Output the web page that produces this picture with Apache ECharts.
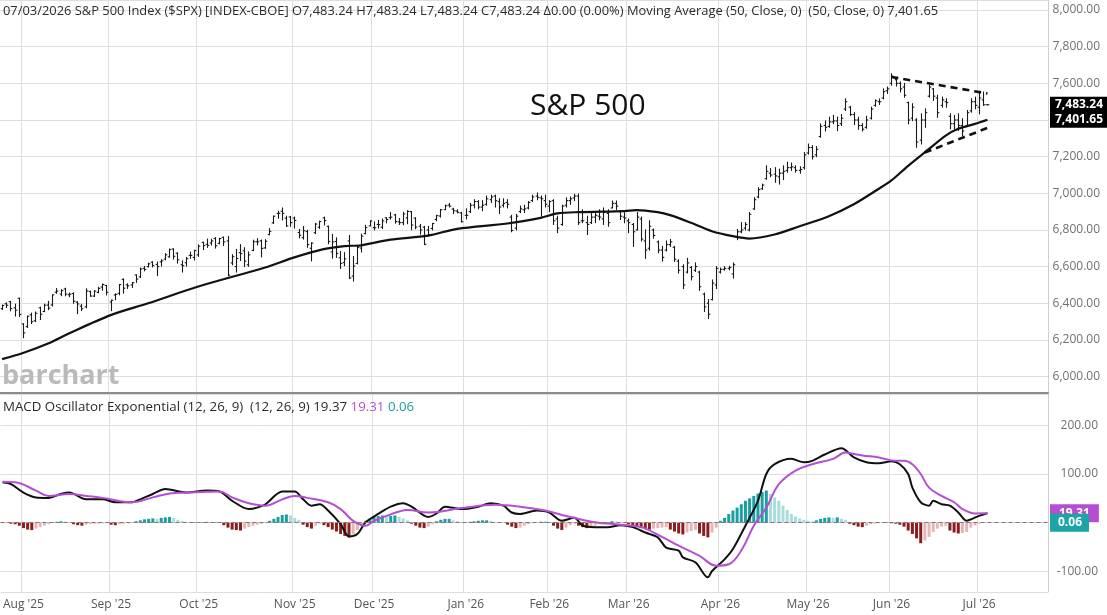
<!DOCTYPE html>
<html>
<head>
<meta charset="utf-8">
<title>S&amp;P 500 Index</title>
<script src="https://cdn.jsdelivr.net/npm/echarts@6.0.0/dist/echarts.min.js"></script>
<style>
  html, body { margin: 0; padding: 0; background: #fff; }
  #main { width: 1107px; height: 615px; }
</style>
</head>
<body>
<div id="main"></div>
<script>
// trading calendar shown on the chart
var tradeStart = '2025-07-25';
var tradeEnd = '2026-07-03';
var holidays = ['2025-09-01', '2025-11-27', '2025-12-25', '2026-01-01', '2026-01-19',
                '2026-02-16', '2026-04-03', '2026-05-25', '2026-06-19'];
var emptySlots = 14;   // blank space right of the last bar
var monthNames = ['Jan', 'Feb', 'Mar', 'Apr', 'May', 'Jun', 'Jul', 'Aug', 'Sep', 'Oct', 'Nov', 'Dec'];

// daily OHLC, one value per trading day
var opens = [
  6370,6397,6409,6375,6427,6287,6272,6337,6304,6375,
  6355,6390,6391,6460,6450,6478,6446,6453,6406,6384,
  6380,6464,6439,6459,6488,6497,6407,6445,6454,6530,
  6500,6500,6554,6544,6590,6600,6624,6612,6626,6641,
  6653,6696,6673,6610,6621,6661,6650,6664,6732,6722,
  6729,6753,6727,6760,6740,6620,6600,6676,6686,6610,
  6688,6736,6741,6702,6775,6839,6890,6902,6864,6871,
  6865,6786,6758,6791,6700,6785,6815,6866,6820,6680,
  6737,6648,6622,6740,6548,6617,6701,6780,6822,6813,
  6830,6815,6866,6867,6882,6844,6840,6866,6900,6865,
  6820,6815,6800,6808,6857,6876,6911,6936,6914,6903,
  6893,6880,6900,6935,6955,6925,6940,6965,6985,6955,
  6935,6950,6870,6810,6900,6910,6920,6960,6985,6975,
  6960,6930,6960,6860,6830,6935,6960,6975,6985,6850,
  6840,6840,6870,6875,6860,6890,6920,6945,6900,6870,
  6850,6830,6800,6860,6740,6700,6800,6735,6690,6690,
  6720,6705,6630,6600,6570,6595,6580,6570,6450,6400,
  6420,6500,6570,6585,6590,6560,6760,6790,6810,6800,
  6915,6980,7025,7080,7110,7105,7090,7110,7125,7140,
  7140,7125,7140,7220,7250,7210,7310,7370,7365,7390,
  7395,7380,7460,7470,7430,7400,7370,7360,7410,7480,
  7500,7520,7560,7600,7620,7600,7580,7495,7410,7400,
  7290,7400,7530,7570,7520,7480,7500,7420,7380,7400,
  7370,7370,7450,7500,7470,7510,7483.24
];
var highs = [
  6390,6402,6410,6395,6428,6288,6330,6346,6352,6379,
  6395,6410,6446,6480,6474,6482,6456,6457,6408,6394,
  6479,6466,6469,6487,6505,6497,6417,6451,6502,6533,
  6506,6513,6555,6592,6601,6619,6627,6625,6638,6671,
  6696,6697,6675,6632,6650,6679,6689,6718,6733,6750,
  6749,6758,6755,6761,6764,6665,6694,6720,6703,6680,
  6744,6752,6745,6747,6807,6876,6902,6920,6875,6874,
  6870,6803,6819,6798,6730,6835,6848,6870,6821,6775,
  6757,6683,6676,6770,6655,6715,6777,6825,6850,6844,
  6852,6860,6867,6895,6885,6862,6896,6905,6901,6866,
  6830,6819,6820,6836,6880,6912,6936,6945,6918,6910,
  6896,6915,6945,6965,6960,6960,6985,6990,6990,6970,
  6970,6965,6880,6885,6930,6935,6955,6990,7002,6985,
  6990,6960,6965,6875,6935,6975,6980,6995,6995,6910,
  6875,6900,6895,6910,6920,6910,6958,6958,6903,6894,
  6860,6835,6895,6870,6800,6850,6805,6740,6710,6740,
  6748,6710,6637,6610,6645,6600,6620,6575,6455,6420,
  6527,6600,6592,6600,6602,6620,6802,6840,6840,6895,
  6976,7031,7050,7150,7135,7140,7132,7150,7170,7165,
  7150,7145,7223,7269,7260,7255,7379,7395,7415,7425,
  7416,7430,7516,7475,7440,7415,7380,7420,7470,7510,
  7515,7570,7580,7652,7630,7608,7600,7498,7489,7407,
  7434,7461,7590,7571,7535,7525,7516,7434,7425,7434,
  7407,7452,7516,7525,7553,7553,7483.24
];
var lows = [
  6366,6377,6359,6330,6327,6212,6268,6289,6300,6311,
  6354,6365,6385,6454,6441,6441,6436,6400,6343,6360,
  6375,6438,6437,6457,6471,6445,6360,6419,6446,6455,
  6481,6486,6514,6540,6577,6598,6598,6551,6603,6637,
  6651,6641,6619,6570,6603,6645,6636,6656,6693,6705,
  6718,6701,6724,6715,6550,6610,6570,6633,6600,6601,
  6687,6718,6653,6700,6773,6835,6864,6855,6820,6820,
  6810,6757,6750,6705,6631,6780,6808,6827,6725,6646,
  6650,6590,6605,6535,6521,6615,6679,6779,6822,6800,
  6810,6808,6839,6859,6837,6830,6828,6834,6801,6807,
  6777,6720,6767,6800,6850,6870,6911,6925,6890,6893,
  6843,6860,6895,6920,6915,6905,6935,6950,6925,6890,
  6925,6920,6790,6800,6895,6895,6915,6955,6965,6875,
  6925,6900,6830,6785,6825,6925,6940,6960,6830,6840,
  6775,6835,6840,6855,6830,6820,6920,6912,6857,6839,
  6785,6710,6800,6740,6645,6690,6755,6675,6630,6685,
  6710,6628,6565,6480,6565,6527,6573,6470,6355,6317,
  6418,6480,6565,6580,6582,6537,6747,6785,6800,6795,
  6912,6976,7022,7077,7090,7060,7050,7075,7115,7125,
  7115,7110,7132,7214,7187,7200,7306,7340,7360,7380,
  7342,7370,7452,7425,7375,7350,7340,7355,7405,7475,
  7485,7515,7545,7590,7585,7553,7525,7379,7397,7251,
  7269,7360,7525,7507,7415,7470,7470,7352,7352,7343,
  7315,7370,7443,7461,7434,7480,7483.24
];
var closes = [
  6388,6389,6371,6362,6339,6238,6329,6299,6345,6340,
  6389,6373,6446,6466,6469,6450,6449,6411,6396,6370,
  6467,6439,6466,6481,6502,6460,6416,6448,6502,6482,
  6495,6512,6532,6587,6584,6615,6606,6600,6631,6664,
  6693,6656,6637,6605,6643,6661,6688,6711,6715,6716,
  6740,6714,6753,6735,6553,6654,6644,6671,6630,6664,
  6736,6735,6699,6738,6792,6875,6891,6890,6822,6840,
  6852,6771,6796,6720,6728,6832,6846,6851,6737,6734,
  6672,6617,6642,6538,6603,6705,6766,6813,6849,6812,
  6829,6849,6857,6870,6846,6840,6887,6901,6827,6816,
  6800,6721,6775,6835,6878,6910,6932,6930,6905,6896,
  6845,6880,6935,6955,6925,6935,6970,6980,6960,6925,
  6945,6940,6797,6875,6915,6915,6950,6980,6978,6970,
  6940,6955,6850,6810,6930,6960,6970,6985,6840,6850,
  6830,6870,6880,6870,6895,6840,6945,6930,6875,6865,
  6840,6790,6870,6750,6690,6820,6770,6690,6650,6720,
  6735,6640,6580,6500,6620,6545,6600,6490,6380,6340,
  6510,6590,6585,6590,6595,6610,6790,6800,6830,6885,
  6965,7020,7045,7120,7100,7095,7110,7120,7140,7145,
  7125,7130,7210,7250,7200,7240,7365,7360,7390,7395,
  7370,7410,7500,7430,7400,7370,7350,7400,7460,7505,
  7500,7555,7570,7640,7600,7570,7535,7400,7470,7280,
  7400,7440,7580,7530,7440,7510,7495,7380,7400,7370,
  7340,7440,7500,7480,7520,7483.24,7483.24
];

// 50-day moving average, read at [day index, value]
var maPoints = [
  [0,6095],[5,6128],[11,6180],[16,6235],[26,6335],[35,6400],[47,6491],[63,6595],
  [70,6650],[77,6695],[82,6712],[86,6716],[93,6747],[102,6769],[109,6806],[121,6835],
  [129,6866],[133,6890],[138,6897],[149,6903],[152,6908],[157,6897],[160,6881],[165,6839],
  [170,6793],[175,6766],[179,6753],[185,6775],[191,6820],[198,6875],[204,6940],[210,7025],
  [213,7070],[217,7150],[222,7242],[226,7315],[229,7352],[233,7379],[236,7401.65]
];

// drawn trend lines
var upperTrend = [[213, 7635], [236, 7545]];
var lowerTrend = [[221, 7222], [236, 7357]];

// MACD (12, 26, 9)
var macdPoints = [
  [0,83],[2,79],[5,62],[8,52],[11,51],[14,59],[16,62],[20,48],[24,48],[27,42],[31,42],
  [33,48],[36,59],[39,69],[44,62],[49,66],[52,64],[55,45],[59,28],[61,31],[63,38],[67,64],
  [70,64],[72,48],[74,35],[76,38],[78,25],[81,-3],[83,-28],[85,-23],[87,1],[90,18],[93,33],
  [96,40],[98,33],[102,12],[104,19],[106,33],[110,28],[114,33],[117,40],[120,35],[122,21],
  [124,18],[128,25],[131,21],[134,4],[137,10],[139,-6],[142,-9],[145,-9],[148,-5],[151,-9],
  [154,-20],[157,-30],[159,-51],[162,-57],[163,-71],[166,-81],[169,-112],[170,-99],[173,-75],
  [175,-54],[178,-6],[181,45],[183,100],[185,120],[189,131],[192,124],[194,127],[197,140],
  [201,153],[204,134],[207,124],[210,122],[213,126],[215,120],[217,100],[218,72],[220,42],
  [222,35],[223,45],[225,38],[227,35],[229,21],[231,4],[232,7],[234,14],[236,19.37]
];
var signalPoints = [
  [0,84],[3,83],[8,66],[11,55],[16,59],[20,55],[24,51],[31,42],[36,52],[40,60],[44,62],
  [52,64],[55,52],[59,40],[63,35],[67,48],[70,55],[73,51],[78,42],[81,28],[84,4],[87,-6],
  [89,4],[92,14],[95,23],[97,26],[102,21],[110,30],[118,37],[124,33],[130,25],[135,14],
  [142,1],[148,-4],[153,-9],[158,-29],[162,-47],[167,-68],[171,-88],[174,-85],[177,-57],
  [180,-6],[183,31],[186,79],[190,107],[194,120],[199,131],[202,144],[204,141],[206,138],
  [210,134],[214,127],[216,127],[218,120],[220,100],[222,72],[225,55],[228,42],[230,28],
  [233,19],[236,19.31]
];
var histValues = [
  -1,-1,-2,-3, -6,-11,-14,-15, -12,-9,-6,-3, 1,2,3,2,1, -3,-5,-6,
  -4,-3,-2,-2,-1,-1, -4,-5, -3,-2,-1,0,
  3,5,7,8,9,8,10,11,12,10, 6,4,2,1, 1,0,1,2,1,1,0,
  -5,-10,-14,-15,-16, -12,-9,-6,-4,-2,-1, 4,8,12,16,17,15, 10,6,
  -4,-9,-12, -6,-2, -5,-9,-14,-18,-23,-27,-30, -24,-15,-6,
  4,8,12,14,15,13,14,15, 12,9,5, -2,-6,-10,-11,-8, -3,
  3,6,8,8, 5,3,2,1,2, 3,4,5,5,4, 2,1,0,
  -4,-8,-11,-10, -6,-3,-1,0, 2,2,1, -6,-12,-15, -10,-5,-2,
  -6,-9,-11,-10, -6,-3,-1,1, 3,2,1,0,
  -3,-6,-9,-11,-13,-14, -12,-11,-10,-9, -14,-18,-22,-24, -20,-17,-15,
  -22,-27,-30, -20,-10,
  4,10,18,25,31,38,45,50,55,60,63,66, 59,52,45,35,26,18,13, 9,6,4,3,
  5,8,10,11,10,11, 8,6, -2,-5,-8,-9, -6,-3,-2,-1, 0,1,-1,-2, -4,-8,
  -16,-23,-32,-42, -36,-29,-19,-12, -8,-6, -16,-20,-22,-21,-19, -10,-5,-2,
  0.5,0.06
];

var priceMin = 5910, priceMax = 8055;
var macdMin = -142, macdMax = 264;

// build the trading-day categories
var dates = [];
var day = new Date(tradeStart + 'T00:00:00Z');
var lastDay = new Date(tradeEnd + 'T00:00:00Z');
while (day <= lastDay) {
  var wd = day.getUTCDay();
  var ds = day.toISOString().slice(0, 10);
  if (wd !== 0 && wd !== 6 && holidays.indexOf(ds) < 0) dates.push(ds);
  day.setUTCDate(day.getUTCDate() + 1);
}
var categories = dates.slice();
for (var k = 0; k < emptySlots; k++) categories.push('pad' + k);

var monthStarts = {};
for (var i = 1; i < dates.length; i++) {
  if (dates[i].slice(5, 7) !== dates[i - 1].slice(5, 7)) monthStarts[i] = true;
}
function isMonthStart(idx) { return !!monthStarts[idx]; }
function monthLabel(val) {
  if (val.indexOf('pad') === 0) return '';
  return monthNames[+val.slice(5, 7) - 1] + " '" + val.slice(2, 4);
}
function fmt2(v) {
  return v.toLocaleString('en-US', { minimumFractionDigits: 2, maximumFractionDigits: 2 });
}

var ohlcData = dates.map(function (d, i) {
  return [i, opens[i], highs[i], lows[i], closes[i]];
});
var histData = histValues.map(function (v, i) {
  var prev = i > 0 ? histValues[i - 1] : v;
  var col;
  if (v >= 0) col = v >= prev ? '#1b9ea0' : '#a9dcdc';
  else col = v < prev ? '#8b1d1d' : '#e4b7b7';
  return { value: v, itemStyle: { color: col } };
});

var lastClose = closes[closes.length - 1];
var lastMA = maPoints[maPoints.length - 1][1];
var lastSignal = signalPoints[signalPoints.length - 1][1];
var lastHist = histValues[histValues.length - 1];

var FONT = '"Open Sans", "Noto Sans", sans-serif';
var gridColor = '#dedede';
var hidden = { color: 'rgba(0,0,0,0)', width: 0 };

function tagLabel(bg, pad) {
  return {
    show: true, position: 'end', distance: 2, opacity: 1,
    backgroundColor: bg, color: '#fff', fontWeight: 'bold', fontSize: 12,
    fontFamily: FONT, padding: pad,
    formatter: function (p) { return fmt2(p.value); }
  };
}

var myChart = echarts.init(document.getElementById('main'));

var option = {
  animation: false,
  textStyle: { fontFamily: FONT },
  grid: [
    { left: 0, right: 59, top: 0, height: 393 },
    { left: 0, right: 59, top: 394, bottom: 23 }
  ],
  xAxis: [
    {
      type: 'category', gridIndex: 0, data: categories, boundaryGap: true,
      axisLabel: { show: false },
      axisTick: { show: false },
      axisLine: { show: true, lineStyle: { color: '#8c8c8c', width: 2 } },
      splitLine: { show: true, interval: isMonthStart, lineStyle: { color: gridColor } }
    },
    {
      type: 'category', gridIndex: 1, data: categories, boundaryGap: true,
      axisLabel: {
        show: true, interval: isMonthStart, formatter: monthLabel,
        color: '#555', fontSize: 12, margin: 7, fontFamily: FONT
      },
      axisTick: { show: false },
      axisLine: { show: true, lineStyle: { color: '#cfcfcf' } },
      splitLine: { show: true, interval: isMonthStart, lineStyle: { color: gridColor } }
    }
  ],
  yAxis: [
    {
      type: 'value', gridIndex: 0, position: 'right', min: priceMin, max: priceMax,
      splitNumber: 10, minInterval: 200, maxInterval: 200,
      axisLine: { show: true, lineStyle: { color: '#cfcfcf' } },
      axisTick: { show: false },
      axisLabel: {
        formatter: fmt2, color: '#707070', fontSize: 12, align: 'right', margin: 52,
        showMinLabel: false, showMaxLabel: false, fontFamily: FONT
      },
      splitLine: { lineStyle: { color: gridColor } }
    },
    {
      type: 'value', gridIndex: 1, position: 'right', min: macdMin, max: macdMax,
      splitNumber: 4, minInterval: 100, maxInterval: 100,
      axisLine: { show: true, lineStyle: { color: '#cfcfcf' } },
      axisTick: { show: false },
      axisLabel: {
        // the zero label sits under the value tags
        formatter: function (v) { return v === 0 ? '' : v.toFixed(2); },
        color: '#707070', fontSize: 12, align: 'right', margin: 50,
        showMinLabel: false, showMaxLabel: false, fontFamily: FONT
      },
      splitLine: { lineStyle: { color: gridColor } }
    }
  ],
  graphic: [
    {
      type: 'text', x: 3, y: 11, z: 10,
      style: {
        text: '07/03/2026 S&P 500 Index ($SPX) [INDEX-CBOE] O7,483.24 H7,483.24 L7,483.24 C7,483.24 \u03940.00 (0.00%) Moving Average (50, Close, 0)  (50, Close, 0) 7,401.65',
        fill: '#2b2b2b', fontSize: 12.9, fontFamily: FONT, textVerticalAlign: 'middle'
      }
    },
    {
      type: 'text', x: 530, y: 106, z: 10,
      style: { text: 'S&P 500', fill: '#111', fontSize: 30, fontFamily: FONT, textVerticalAlign: 'middle' }
    },
    {
      type: 'text', x: 2, y: 390, z: 1,
      style: {
        text: 'barchart', fill: '#bababa', fontSize: 27, fontWeight: 'bold',
        fontFamily: FONT, textVerticalAlign: 'bottom'
      }
    },
    {
      type: 'text', x: 3, y: 407, z: 10,
      style: {
        text: '{a|MACD Oscillator Exponential (12, 26, 9)  (12, 26, 9) 19.37 }{b|19.31 }{c|0.06}',
        textVerticalAlign: 'middle',
        rich: {
          a: { fill: '#2b2b2b', fontSize: 13.3, fontFamily: FONT },
          b: { fill: '#b54fd2', fontSize: 13.3, fontFamily: FONT },
          c: { fill: '#1b9ea0', fontSize: 13.3, fontFamily: FONT }
        }
      }
    }
  ],
  series: [
    {
      name: 'SPX', type: 'custom', xAxisIndex: 0, yAxisIndex: 0, z: 3,
      data: ohlcData,
      encode: { x: 0, y: [1, 2, 3, 4] },
      renderItem: function (params, api) {
        var idx = api.value(0);
        var o = api.coord([idx, api.value(1)]);
        var h = api.coord([idx, api.value(2)]);
        var l = api.coord([idx, api.value(3)]);
        var c = api.coord([idx, api.value(4)]);
        var x = Math.round(h[0]) + 0.5;
        var st = { stroke: '#1a1a1a', lineWidth: 1.1 };
        return {
          type: 'group',
          children: [
            { type: 'line', shape: { x1: x, y1: h[1] - 0.5, x2: x, y2: l[1] + 0.5 }, style: st },
            { type: 'line', shape: { x1: x - 1.8, y1: o[1], x2: x, y2: o[1] }, style: st },
            { type: 'line', shape: { x1: x, y1: c[1], x2: x + 1.8, y2: c[1] }, style: st }
          ]
        };
      }
    },
    {
      name: 'MA50', type: 'line', xAxisIndex: 0, yAxisIndex: 0, z: 4,
      data: maPoints, smooth: 0.3, showSymbol: false, symbol: 'none',
      lineStyle: { color: '#111', width: 2.2 },
      markLine: {
        silent: true, symbol: 'none', animation: false,
        data: [
          { yAxis: lastMA, lineStyle: hidden, label: tagLabel('#000', [2, 6, 2, 5]) },
          { yAxis: lastClose, lineStyle: hidden, label: tagLabel('#000', [2, 6, 2, 5]) }
        ]
      }
    },
    {
      name: 'upper', type: 'line', xAxisIndex: 0, yAxisIndex: 0, z: 5,
      data: upperTrend, showSymbol: false, symbol: 'none',
      lineStyle: { color: '#111', width: 2.6, type: [7, 5] }
    },
    {
      name: 'lower', type: 'line', xAxisIndex: 0, yAxisIndex: 0, z: 5,
      data: lowerTrend, showSymbol: false, symbol: 'none',
      lineStyle: { color: '#111', width: 2.6, type: [7, 5] }
    },
    {
      name: 'hist', type: 'bar', xAxisIndex: 1, yAxisIndex: 1, z: 2,
      data: histData, barWidth: 3,
      markLine: {
        silent: true, symbol: 'none', animation: false,
        data: [
          {
            yAxis: 0,
            lineStyle: { color: '#8e7272', type: [4, 3], width: 1, opacity: 1 },
            label: { show: false }
          },
          { yAxis: lastSignal, lineStyle: hidden, label: tagLabel('#b54fd2', [3, 9, 3, 9]) },
          { yAxis: lastHist, lineStyle: hidden, label: tagLabel('#1ba5a5', [3, 7, 3, 8]) }
        ]
      }
    },
    {
      name: 'MACD', type: 'line', xAxisIndex: 1, yAxisIndex: 1, z: 3,
      data: macdPoints, smooth: 0.3, showSymbol: false, symbol: 'none',
      lineStyle: { color: '#111', width: 2 }
    },
    {
      name: 'Signal', type: 'line', xAxisIndex: 1, yAxisIndex: 1, z: 3,
      data: signalPoints, smooth: 0.4, showSymbol: false, symbol: 'none',
      lineStyle: { color: '#b54fd2', width: 2 }
    }
  ]
};

myChart.setOption(option);
</script>
</body>
</html>
